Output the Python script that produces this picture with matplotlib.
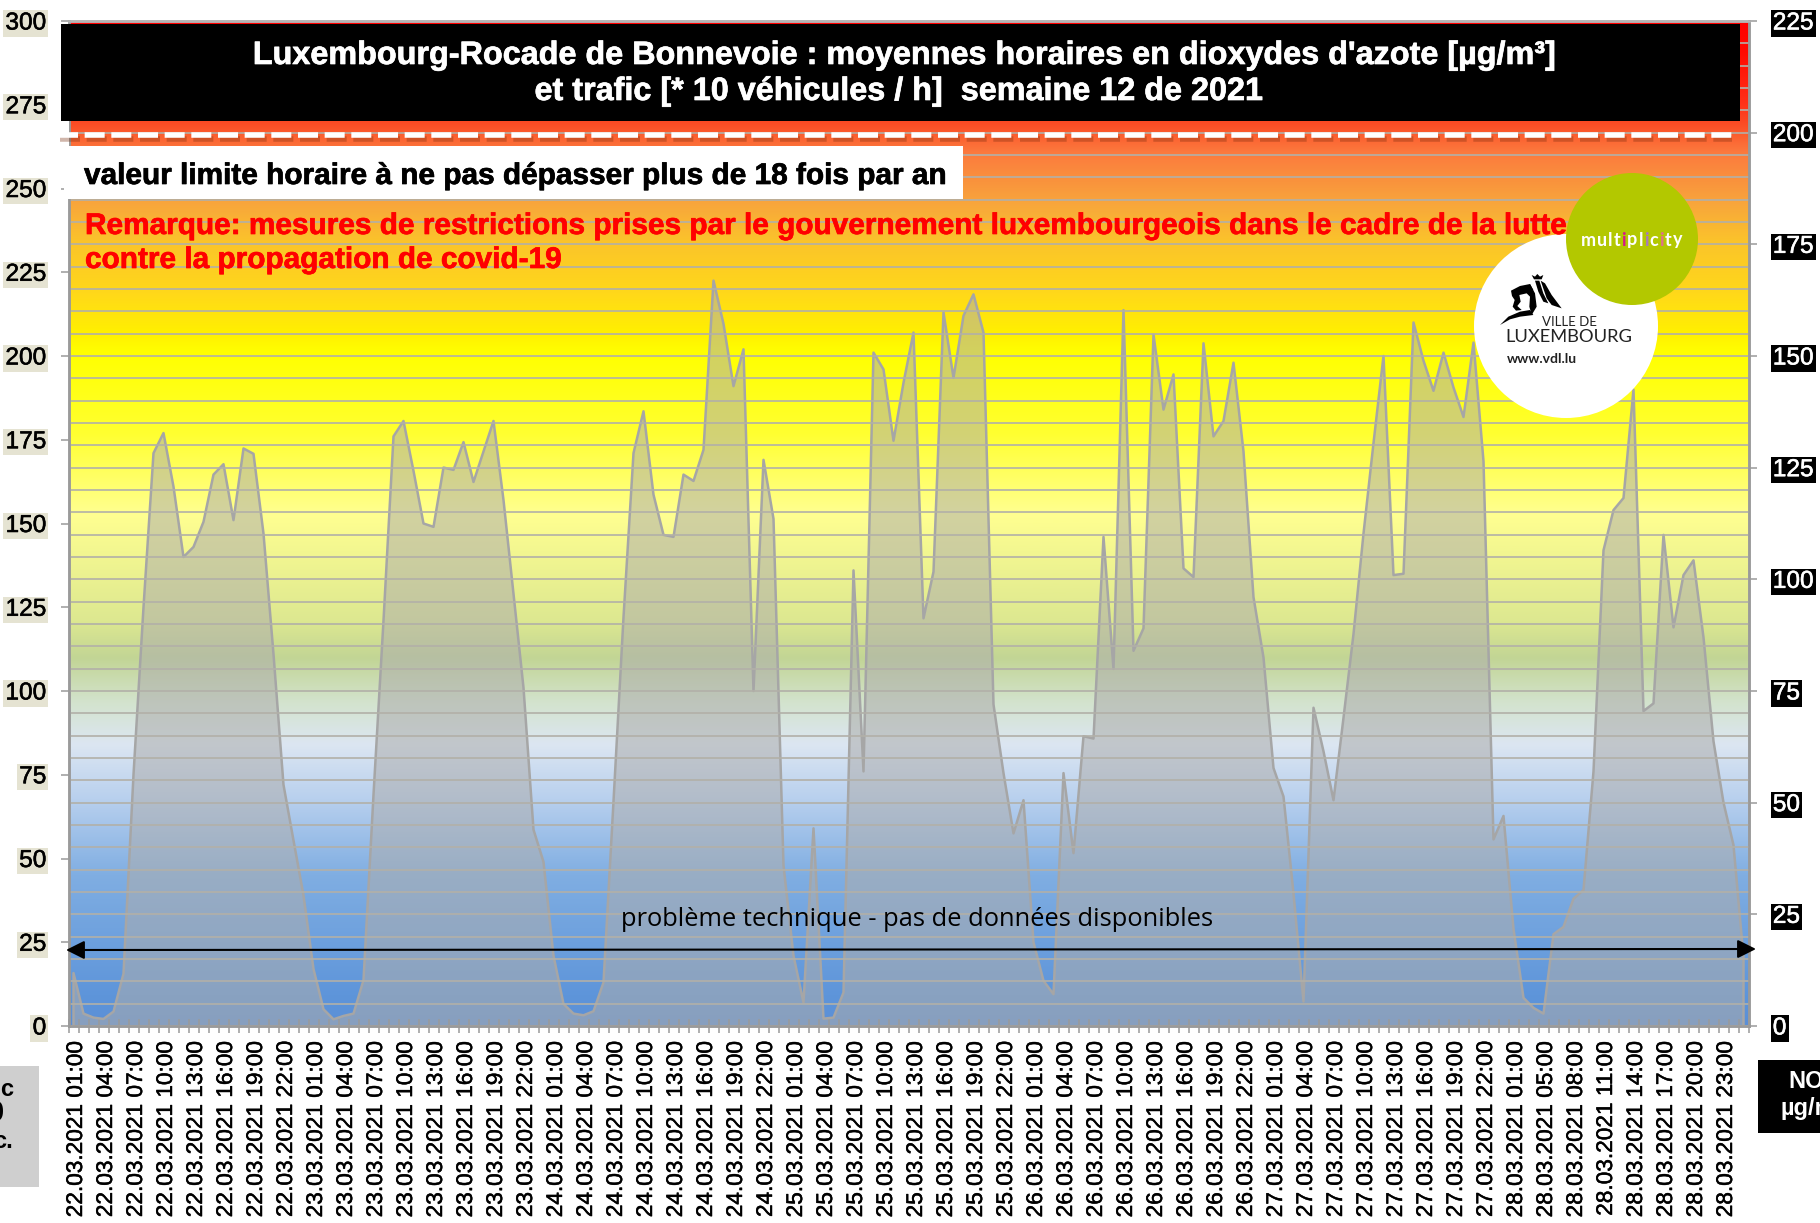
import numpy as np
import matplotlib
matplotlib.use("Agg")
import matplotlib.pyplot as plt
import matplotlib.patheffects as pe
from matplotlib.colors import LinearSegmentedColormap
from matplotlib.patches import Circle, Polygon, Rectangle

plt.rcParams["font.family"] = ["Liberation Sans", "DejaVu Sans"]

# hourly values, left axis units
traffic = [
    15.8, 3.7, 2.5, 2.1, 4.3, 15.6, 75, 125, 171, 177, 161, 140, 143, 150.5, 164.6, 167.7,
    151, 172.4, 170.8, 147, 111, 72, 55.4, 39, 17, 5, 2, 3, 3.7, 13.7, 69, 121,
    176, 180.6, 165.7, 150, 149, 166.7, 166, 174.3, 162.4, 171.5, 180.6, 157, 129, 101, 58.6, 49,
    21, 6.6, 3.7, 3.2, 4.4, 13, 67, 122, 171, 183.5, 158.6, 146.6, 146, 164.6, 162.7, 172,
    222.5, 209.6, 191, 202, 100, 169, 151.4, 48, 21, 7, 59, 2.2, 2.5, 10, 136, 76,
    201, 196, 174.7, 192, 207, 121.7, 135.6, 213, 193.5, 212, 218.4, 207, 96, 75.5, 57.5, 67.4,
    25, 13.5, 9.5, 75.5, 51.6, 86.5, 85.8, 146, 106.6, 213.7, 112, 118.7, 206.4, 184, 194.5, 136.6,
    134, 203.8, 176, 180.6, 198, 171.5, 128, 110, 77, 68.5, 39.6, 7.3, 95, 82, 67.4, 92,
    117, 147, 174, 200, 134.6, 135, 210, 198.6, 189.6, 201, 190.6, 181.8, 204, 168.6, 55.7, 62.7,
    29, 8.4, 5.4, 3.7, 27.4, 29.6, 38, 40.6, 76, 142, 154, 157.6, 190, 94, 96.3, 146.6,
    119, 134.6, 139, 116, 85, 66.7, 54, 20.5,
]

days = ["22.03.2021", "23.03.2021", "24.03.2021", "25.03.2021", "26.03.2021", "27.03.2021", "28.03.2021"]
hours = ["01:00", "04:00", "07:00", "10:00", "13:00", "16:00", "19:00", "22:00"]
hours_last_day = ["01:00", "05:00", "08:00", "11:00", "14:00", "17:00", "20:00", "23:00"]
tick_labels = [d + " " + h for d in days[:-1] for h in hours] + [days[-1] + " " + h for h in hours_last_day]

left_ticks = [0, 25, 50, 75, 100, 125, 150, 175, 200, 225, 250, 275, 300]
right_ticks = [0, 25, 50, 75, 100, 125, 150, 175, 200, 225]

# background colours, from the top of the plot down
gradient_stops = [
    (0.00, "#ff0000"), (0.03, "#ff0a00"), (0.08, "#ff3018"), (0.10, "#fb4a24"), (0.13, "#fc7a3e"),
    (0.18, "#f8a53c"), (0.22, "#fbc42a"), (0.27, "#ffd81a"), (0.31, "#fff000"), (0.33, "#ffff00"),
    (0.41, "#ffff30"), (0.49, "#ffff90"), (0.597, "#dde890"), (0.634, "#c2d595"), (0.678, "#d3e3cd"),
    (0.72, "#dce6f2"), (0.775, "#b8d0ee"), (0.85, "#80aee2"), (0.97, "#5e95da"), (1.00, "#5b8fd6"),
]

W, H = 1820, 1223
L, R, T, B = 68.5, 1748.5, 21, 1026


def thicken(text, color, width=0.4):
    text.set_path_effects([pe.withStroke(linewidth=width, foreground=color)])


fig = plt.figure(figsize=(W / 100, H / 100), dpi=100, facecolor="white")
ax = fig.add_axes([L / W, 1 - B / H, (R - L) / W, (B - T) / H])

x = np.arange(len(traffic))
cmap = LinearSegmentedColormap.from_list("bg", gradient_stops, N=512)
ax.imshow(np.linspace(0, 1, 512)[:, None], cmap=cmap, aspect="auto", extent=(-0.5, 167.5, 0, 300), zorder=0)
ax.fill_between(x, 0, traffic, color="#adadad", alpha=0.55, linewidth=0, zorder=1)
ax.plot(np.r_[x[0], x, x[-1]], np.r_[0, traffic, 0], color="#a6a6a6", lw=1.8, zorder=2)
ax.set_xlim(-0.5, 167.5)
ax.set_ylim(0, 300)

ax.set_xticks(np.arange(-0.5, 168, 1))
ax.set_xticklabels([])
ax.tick_params(axis="x", which="major", direction="inout", length=10, width=1.1, color="#9a9a9a")
# labels sit a little right of the tick centre, rotated text leans left otherwise
ax.set_xticks(np.arange(0, 168, 3) + 0.2, minor=True)
ax.set_xticklabels(tick_labels, minor=True, rotation=90, fontsize=16.3, va="top", ha="center")
ax.tick_params(axis="x", which="minor", length=0, pad=11)
for t in ax.get_xticklabels(minor=True):
    thicken(t, "black", 0.35)

ax.set_yticks(left_ticks)
ax.tick_params(axis="y", length=5.5, width=1.1, color="#9a9a9a", labelsize=17.6, pad=10.5)
for t in ax.get_yticklabels():
    t.set_verticalalignment("center_baseline")
    t.set_bbox(dict(facecolor="#e5e3d2", edgecolor="none", pad=1.5))
    thicken(t, "black")

# second scale carries the grid, so the lines stay visible through the area
ax2 = ax.twinx()
ax2.set_ylim(0, 225)
ax2.set_yticks(right_ticks)
ax2.set_yticks(np.arange(0, 226, 5), minor=True)
ax2.grid(which="both", axis="y", color="#b2b0a8", lw=1.2)
ax2.tick_params(axis="y", which="major", length=5.5, width=1.1, color="#9a9a9a", labelsize=17.6,
                labelcolor="white", pad=12)
ax2.tick_params(axis="y", which="minor", length=0)
for t in ax2.get_yticklabels():
    t.set_verticalalignment("center_baseline")
    t.set_bbox(dict(facecolor="black", edgecolor="none", pad=1.5))
    thicken(t, "white")

for a in [ax, ax2]:
    for side in a.spines:
        a.spines[side].set_color("#9a9a9a")
        a.spines[side].set_linewidth(1.8)
    a.spines["top"].set_color("#b5b5b5")

# everything laid over the plot, in pixels of the picture
deco = fig.add_axes([0, 0, 1, 1], facecolor="none")
deco.set_xlim(0, W)
deco.set_ylim(H, 0)
deco.axis("off")

deco.add_patch(Rectangle((61, 24), 1679, 97, color="black", lw=0))
for line, cx, y in [("Luxembourg-Rocade de Bonnevoie : moyennes horaires en dioxydes d'azote [µg/m³]", 905, 56),
                    ("et trafic [* 10 véhicules / h]  semaine 12 de 2021", 899, 92)]:
    t = deco.text(cx, y, line, color="white", fontsize=23.3, fontweight="bold", ha="center", va="center")
    thicken(t, "white", 0.5)

deco.add_patch(Rectangle((62, 121), 6.5, 25, color="white", lw=0))
deco.plot([60, 1732], [138.5, 138.5], color="#7a3010", alpha=0.35, lw=4, dashes=(3.6, 1.2), dash_capstyle="butt")
deco.plot([58, 1732], [134.7, 134.7], color="white", lw=4, dashes=(3.6, 1.2), dash_capstyle="butt")

deco.add_patch(Rectangle((64, 146), 899, 53, color="white", lw=0))
t = deco.text(84, 176, "valeur limite horaire à ne pas dépasser plus de 18 fois par an",
              color="black", fontsize=21.45, fontweight="bold", ha="left", va="center")
thicken(t, "black", 0.5)
for line, y in [("Remarque: mesures de restrictions prises par le gouvernement luxembourgeois dans le cadre de la lutte", 226),
                ("contre la propagation de covid-19", 260)]:
    t = deco.text(85, y, line, color="red", fontsize=21.45, fontweight="bold", ha="left", va="center")
    thicken(t, "red", 0.5)

deco.annotate("", xy=(66, 950), xytext=(1756, 949),
              arrowprops=dict(arrowstyle="<|-|>,head_length=0.8,head_width=0.4", color="black", lw=1.5,
                              shrinkA=0, shrinkB=0, mutation_scale=14))
deco.text(917, 920, "problème technique - pas de données disponibles", color="black", fontsize=18.4,
          family="Open Sans", ha="center", va="center")

# logos
deco.add_patch(Circle((1566, 326), 92, color="white", lw=0))
deco.add_patch(Circle((1632, 239), 66, color="#b3c800", lw=0))


def lion_part(points):
    pts = [(1480 + px / 3, 260 + py / 3) for px, py in points]
    deco.add_patch(Polygon(pts, closed=True, color="black", lw=0))


lion_part([(93, 92), (120, 78), (150, 72), (160, 90), (140, 100), (118, 105), (122, 125), (112, 138), (125, 150), (108, 152), (98, 140), (104, 120), (96, 108)])
lion_part([(150, 72), (165, 100), (170, 140), (155, 165), (148, 140), (150, 110), (140, 100)])
lion_part([(165, 62), (178, 62), (190, 100), (205, 130), (190, 125), (175, 95)])
lion_part([(182, 62), (195, 70), (215, 105), (245, 145), (215, 135), (200, 115)])
lion_part([(60, 195), (85, 170), (120, 155), (150, 150), (160, 165), (120, 170), (90, 178)])
lion_part([(155, 45), (165, 50), (172, 42), (180, 50), (190, 45), (185, 58), (162, 58)])

deco.text(1569, 322, "VILLE DE", color="#222222", fontsize=9.5, family="Lato", ha="center", va="center")
deco.text(1569, 337, "LUXEMBOURG", color="#222222", fontsize=13.2, family="Lato", ha="center", va="center")
deco.text(1542, 359, "www.vdl.lu", color="#222222", fontsize=10, family="Lato", fontweight="bold", ha="center", va="center")

letters = list("multiplicity")
letter_colors = ["white"] * 4 + ["#d6168c"] + ["white"] * 2 + ["#a77ac0"] + ["white"] + ["#e0708a"] + ["white"] * 2
renderer = fig.canvas.get_renderer()
cur_x = 1581
for letter, col in zip(letters, letter_colors):
    t = deco.text(cur_x, 240, letter, color=col, fontsize=13, family="Lato", fontweight="bold", ha="left", va="center")
    cur_x += t.get_window_extent(renderer).width + 1

# side boxes, cut by the edge of the picture
deco.add_patch(Rectangle((0, 1066), 39, 121, color="#cfcfcf", lw=0))
deco.text(13, 1090, "c", color="black", fontsize=17, fontweight="bold", ha="right", va="center")
deco.text(4, 1113, "0", color="black", fontsize=21, fontweight="bold", ha="right", va="center")
deco.text(13, 1142, "c.", color="black", fontsize=17, fontweight="bold", ha="right", va="center")

deco.add_patch(Rectangle((1758, 1060), 62, 73, color="black", lw=0))
deco.text(1788, 1082, "NO", color="white", fontsize=17, fontweight="bold", ha="left", va="center")
deco.text(1780, 1108, "µg/m", color="white", fontsize=17, fontweight="bold", ha="left", va="center")

fig.savefig("out.png", dpi=100)
